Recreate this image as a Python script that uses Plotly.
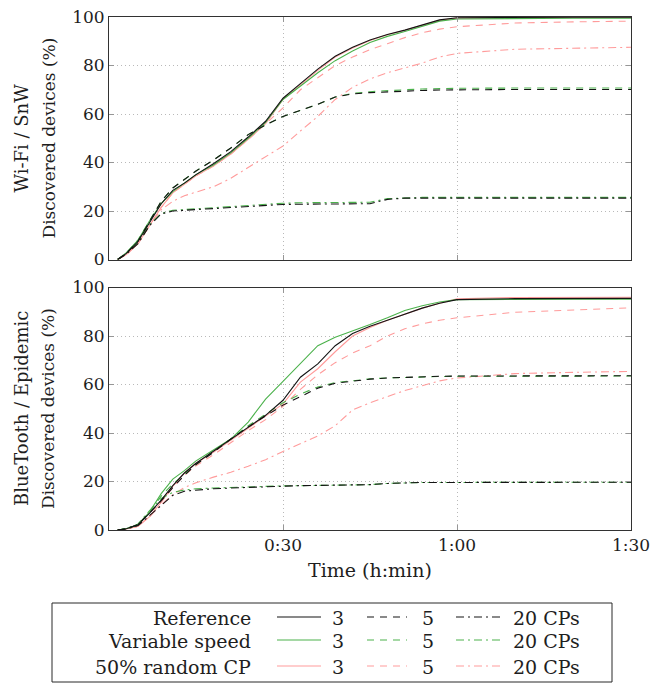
import plotly.graph_objects as go
from plotly.subplots import make_subplots

# ---------------- data ----------------
T = [1.5, 3, 5, 7, 9, 11, 13, 15, 18, 21, 24, 27, 30, 33, 36, 39, 42, 45, 48, 51, 54, 57, 60, 70, 80, 90]

# Top panel: Wi-Fi / SnW
wifi_ref3 = [0, 2.5, 7.5, 15.5, 23, 28.5, 31.5, 35, 39.5, 44.5, 50.5, 57, 66.5, 72.5, 78.5, 83.8, 87.5, 90.5, 92.8, 94.6, 96.8, 98.8, 99.7, 99.9, 99.9, 99.9]
wifi_var3 = [0, 2.8, 8, 16, 23, 28, 31.5, 35, 39, 44, 50, 56.5, 66, 71.5, 77, 82, 86, 89.5, 92, 94, 96.3, 98.3, 99.2, 99.5, 99.5, 99.5]
wifi_rnd3 = [0, 2, 6.5, 14, 21.5, 27.5, 31, 34.5, 38.5, 43.5, 49.5, 56, 66, 72, 78, 83.5, 87.2, 90.3, 92.7, 94.5, 96.6, 98.6, 99.6, 99.9, 99.9, 99.9]
wifi_ref5 = [0, 2.5, 7.5, 15.5, 24, 29.5, 33, 36.5, 41, 46, 51.5, 55.5, 59, 61.5, 64, 67, 68.3, 68.8, 69.2, 69.5, 69.7, 69.9, 70, 70.1, 70.1, 70.1]
wifi_var5 = [0, 2.8, 8, 16, 24, 29.5, 33, 36.5, 41, 46, 51.5, 55.5, 59, 61.5, 64, 67, 68.5, 69.2, 69.7, 70, 70.3, 70.5, 70.6, 70.7, 70.7, 70.7]
wifi_rnd5 = [0, 2, 6.5, 14, 21.5, 27.5, 31, 34.5, 38.5, 43.5, 49.5, 56, 62.5, 70, 75, 80, 83.5, 86.5, 89, 91.5, 93.5, 95, 96, 97.5, 98, 98.3]
wifi_ref20 = [0, 2.3, 6.5, 14, 18.8, 20, 20.3, 20.6, 21, 21.5, 22, 22.5, 22.7, 22.8, 22.9, 23, 23, 23, 24.8, 25.3, 25.3, 25.3, 25.3, 25.3, 25.3, 25.3]
wifi_var20 = [0, 2.5, 7, 14.5, 19, 20.3, 20.6, 20.9, 21.3, 21.8, 22.4, 22.9, 23.2, 23.4, 23.5, 23.5, 23.5, 23.6, 25.1, 25.5, 25.6, 25.6, 25.6, 25.6, 25.6, 25.6]
wifi_rnd20 = [0, 2, 6.5, 14, 20.5, 24, 26.3, 27.8, 30, 33.5, 38, 42.5, 46.8, 53, 59, 66, 71, 74.5, 77, 79, 81, 83.5, 85, 86.7, 87.2, 87.5]

# Bottom panel: BlueTooth / Epidemic
bt_ref3 = [0, 0.5, 2.2, 7, 12.3, 18.3, 23.5, 27.5, 32.5, 37.5, 42.5, 47.3, 53.5, 63, 68.5, 76, 81, 84, 86.5, 89, 91.5, 93.5, 95, 95.4, 95.5, 95.5]
bt_var3 = [0, 0.6, 2, 7.5, 15, 21, 24.5, 28.5, 33, 37.5, 44.5, 54, 61.3, 68.5, 76, 79.5, 82, 84.7, 87.5, 90.5, 92.5, 94, 95, 95.2, 95.2, 95.2]
bt_rnd3 = [0, 0.4, 1.5, 5.5, 11.5, 18, 23.5, 27.5, 32, 37, 42, 47, 52, 61, 66.5, 73.5, 80, 83.5, 86.5, 89, 91.5, 93.5, 95.3, 95.9, 96, 96]
bt_ref5 = [0, 0.5, 2.2, 7, 12, 17.5, 22.5, 27, 32, 37.5, 42.5, 47, 51.5, 55, 58.5, 60.5, 61.5, 62.2, 62.7, 63, 63.2, 63.4, 63.5, 63.6, 63.6, 63.6]
bt_var5 = [0, 0.6, 2.2, 7.5, 14, 19, 23, 27, 32.5, 37.5, 43, 47.8, 52.5, 56, 59, 60.8, 61.7, 62.3, 62.7, 63, 63.2, 63.3, 63.4, 63.5, 63.5, 63.5]
bt_rnd5 = [0, 0.4, 1.5, 5.5, 11.5, 17.5, 22.5, 26.5, 31, 36, 41, 45.5, 51, 58, 64, 69, 73, 76, 80, 83, 85, 86.5, 87.5, 89.8, 90.8, 91.6]
bt_ref20 = [0, 0.4, 1.8, 6, 10.5, 14.3, 16, 16.5, 17, 17.3, 17.6, 17.9, 18.2, 18.3, 18.4, 18.5, 18.6, 18.7, 19.2, 19.5, 19.6, 19.6, 19.6, 19.7, 19.7, 19.7]
bt_var20 = [0, 0.6, 2.5, 8, 13, 15.5, 16.5, 17, 17.3, 17.6, 17.8, 18, 18.2, 18.3, 18.4, 18.5, 18.6, 18.7, 19.2, 19.5, 19.6, 19.6, 19.6, 19.7, 19.7, 19.7]
bt_rnd20 = [0, 0.4, 1.5, 5.5, 10.5, 14.5, 17.5, 19.5, 21.8, 23.8, 26.3, 29, 32.4, 35.5, 38.8, 43, 49.5, 52.5, 55, 57.5, 59.5, 61.5, 62.7, 64.5, 65, 65.4]

x_tickvals = [30, 60, 90]
x_ticktext = ["0:30", "1:00", "1:30"]
y_tickvals = [0, 20, 40, 60, 80, 100]

row_labels = ["Reference", "Variable speed", "50% random CP"]
col_labels = ["3", "5", "20 CPs"]
panel_titles = [("Wi-Fi / SnW", "Discovered devices (%)"),
                ("BlueTooth / Epidemic", "Discovered devices (%)")]
x_title = "Time (h:min)"

# ---------------- styles ----------------
BLACK = "rgb(20,20,20)"
GREEN = "rgb(76,178,76)"
PINK = "rgb(255,155,155)"
DASH = "7px,6px"
DASHDOT = "8px,4px,2px,4px"
FONT = "DejaVu Serif"
TXT = "rgb(30,30,30)"

L, R_, TOP, BOT = 109, 631, 17, 530
W, H = 652, 684

fig = make_subplots(rows=2, cols=1, shared_xaxes=False, vertical_spacing=28 / (BOT - TOP))

series_top = [
    (wifi_rnd3, PINK, "solid"), (wifi_rnd5, PINK, DASH), (wifi_rnd20, PINK, DASHDOT),
    (wifi_var3, GREEN, "solid"), (wifi_var5, GREEN, DASH), (wifi_var20, GREEN, DASHDOT),
    (wifi_ref3, BLACK, "solid"), (wifi_ref5, BLACK, DASH), (wifi_ref20, BLACK, DASHDOT),
]
series_bot = [
    (bt_rnd3, PINK, "solid"), (bt_rnd5, PINK, DASH), (bt_rnd20, PINK, DASHDOT),
    (bt_var3, GREEN, "solid"), (bt_var5, GREEN, DASH), (bt_var20, GREEN, DASHDOT),
    (bt_ref3, BLACK, "solid"), (bt_ref5, BLACK, DASH), (bt_ref20, BLACK, DASHDOT),
]
for r, ser in ((1, series_top), (2, series_bot)):
    for ys, col, dash in ser:
        fig.add_trace(go.Scatter(x=T, y=ys, mode="lines",
                                 line=dict(color=col, width=1.1, dash=dash),
                                 showlegend=False, hoverinfo="skip"), row=r, col=1)

axis_common = dict(showline=True, linecolor="rgb(50,50,50)", linewidth=1, mirror="ticks",
                   ticks="inside", ticklen=5, tickcolor="rgb(150,150,150)",
                   showgrid=True, gridcolor="rgb(185,185,185)", griddash="1px,3px", gridwidth=1,
                   zeroline=False, automargin=False,
                   tickfont=dict(family=FONT, size=17, color=TXT))

for r in (1, 2):
    fig.update_xaxes(range=[0, 90], tickvals=x_tickvals, ticktext=x_ticktext,
                     showticklabels=(r == 2), row=r, col=1, **axis_common)
    fig.update_yaxes(range=[0, 100], tickvals=y_tickvals, row=r, col=1, **axis_common)


def px(x):
    return (x - L) / (R_ - L)


def py(y):
    return (BOT - y) / (BOT - TOP)


# axis titles as annotations
for (l1, l2), yc in zip(panel_titles, [138.5, 409]):
    fig.add_annotation(xref="paper", yref="paper", x=px(21), y=py(yc), text=l1, textangle=-90,
                       showarrow=False, xanchor="center", yanchor="middle",
                       font=dict(family=FONT, size=18, color=TXT))
    fig.add_annotation(xref="paper", yref="paper", x=px(48), y=py(yc), text=l2, textangle=-90,
                       showarrow=False, xanchor="center", yanchor="middle",
                       font=dict(family=FONT, size=17, color=TXT))
fig.add_annotation(xref="paper", yref="paper", x=px(370), y=py(570), text=x_title,
                   showarrow=False, xanchor="center", yanchor="middle",
                   font=dict(family=FONT, size=19, color=TXT))

# ---------------- custom legend table ----------------
fig.add_shape(type="rect", xref="paper", yref="paper", x0=px(52), x1=px(612), y0=py(603), y1=py(682),
              line=dict(color="rgb(40,40,40)", width=1), fillcolor="white")

row_y = [617, 640, 666]
row_cols = [BLACK, GREEN, PINK]
samples = [(277, 321, 330, "solid"), (367, 407, 420, DASH), (456, 502, 511, DASHDOT)]
for i, lab in enumerate(row_labels):
    yy = py(row_y[i])
    fig.add_annotation(xref="paper", yref="paper", x=px(253), y=py(row_y[i] + 1), text=lab, showarrow=False,
                       xanchor="right", yanchor="middle",
                       font=dict(family=FONT, size=19, color=TXT))
    for j, (x0, x1, xt, dash) in enumerate(samples):
        fig.add_shape(type="line", xref="paper", yref="paper", x0=px(x0), x1=px(x1), y0=yy, y1=yy,
                      line=dict(color=row_cols[i], width=1.1, dash=dash))
        fig.add_annotation(xref="paper", yref="paper", x=px(xt), y=py(row_y[i] + 1), text=col_labels[j],
                           showarrow=False, xanchor="left", yanchor="middle",
                           font=dict(family=FONT, size=19, color=TXT))

fig.update_layout(width=W, height=H, plot_bgcolor="white", paper_bgcolor="white",
                  margin=dict(l=L, r=W - R_, t=TOP, b=H - BOT), showlegend=False)

fig.write_html("out.html", config={"displayModeBar": False, "staticPlot": True},
               post_script="document.body.style.margin='0';document.body.style.overflow='hidden';")
